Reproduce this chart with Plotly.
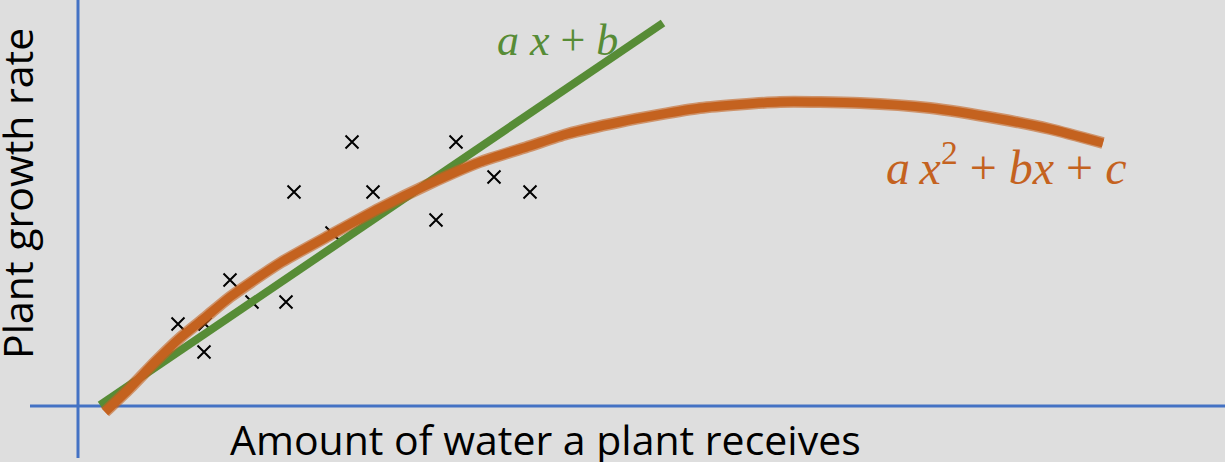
import plotly.graph_objects as go

obs_water = [274, 378, 216, 295, 416, 452, 358, 254, 152, 174, 208, 100, 127, 126]
obs_growth = [264, 264, 214, 214, 229, 214, 186, 173, 126, 104, 104, 82, 82, 54]

# straight fit  ax + b
lin_water = [22, 585]
lin_growth = [1, 383]

# quadratic fit  ax^2 + bx + c
quad_water = [27, 52, 77, 102, 129, 152, 202, 254, 302, 349, 402, 452, 489, 542, 622, 702, 782, 852, 922, 972, 1025]
quad_growth = [-6, 18, 44, 68, 90, 109, 143, 172, 198, 221, 244, 260, 272, 284, 298, 304, 303, 298, 287, 277, 263]

BG = "#DEDEDE"
BLUE = "#4472C4"
GREEN = "#578C36"
ORANGE = "#C4621F"

fig = go.Figure()

fig.add_trace(go.Scatter(
    x=obs_water, y=obs_growth, mode="markers",
    marker=dict(symbol="x-thin", size=13, line=dict(width=2, color="black")),
))
fig.add_trace(go.Scatter(
    x=lin_water, y=lin_growth, mode="lines",
    line=dict(color=GREEN, width=8),
))
fig.add_trace(go.Scatter(
    x=quad_water, y=quad_growth, mode="lines", opacity=0.6,
    line=dict(color=ORANGE, width=12, shape="spline", smoothing=0.6),
))
fig.add_trace(go.Scatter(
    x=quad_water, y=quad_growth, mode="lines",
    line=dict(color=ORANGE, width=9, shape="spline", smoothing=0.6),
))

# the two hand-drawn axes
fig.add_shape(type="line", x0=0, x1=0, y0=406, y1=-52, line=dict(color=BLUE, width=3), layer="below")
fig.add_shape(type="line", x0=-48, x1=1147, y0=0, y1=0, line=dict(color=BLUE, width=3), layer="below")

fig.add_annotation(x=467, y=-33, text="Amount of water a plant receives", showarrow=False,
                   font=dict(family="Open Sans", size=41, color="black"))
fig.add_annotation(x=-61, y=212, text="Plant growth rate", showarrow=False, textangle=-90,
                   font=dict(family="Open Sans", size=41, color="black"))
fig.add_annotation(x=479, y=366, text="<i>a x</i> + <i>b</i>", showarrow=False,
                   font=dict(family="Liberation Serif", size=44, color=GREEN))
fig.add_annotation(x=928, y=242, text="<i>a&#8201;x</i><sup>2</sup> + <i>bx</i> + <i>c</i>", showarrow=False,
                   font=dict(family="Liberation Serif", size=48, color=ORANGE))

fig.update_layout(
    width=1225, height=462,
    margin=dict(l=0, r=0, t=0, b=0),
    paper_bgcolor=BG, plot_bgcolor=BG,
    showlegend=False,
    xaxis=dict(range=[-78, 1147], visible=False),
    yaxis=dict(range=[-56, 406], visible=False),
)

# page body has a default 8px margin; drop it so the figure fills the window
fig.write_html("out.html", config={"displayModeBar": False},
               post_script="document.body.style.margin='0';")
